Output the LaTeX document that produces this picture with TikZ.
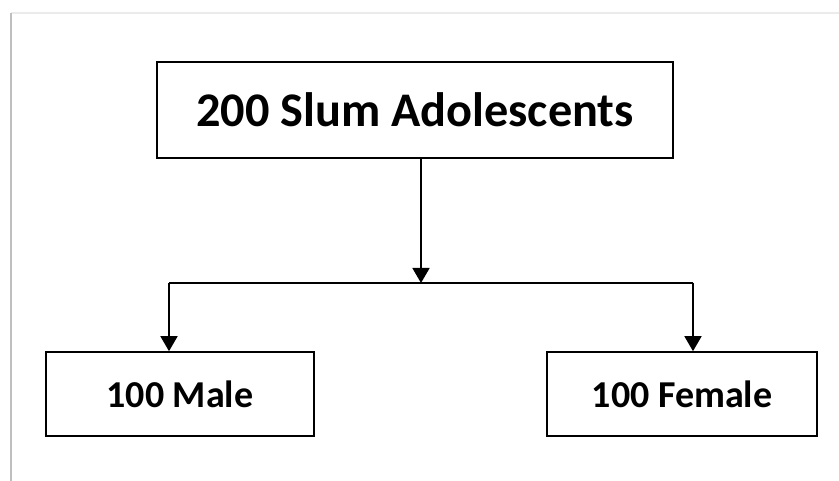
\documentclass[tikz,border=0pt]{standalone}
\usepackage{fontspec}
\setmainfont{Carlito}
\usetikzlibrary{arrows.meta}

\begin{document}
\begin{tikzpicture}[x=1pt,y=1pt,
		box/.style={draw,line width=1.6pt,inner sep=0pt,font=\bfseries},
		link/.style={line width=1.6pt},
		tip/.style={-{Triangle[length=15pt,width=17pt]}}]
		\useasboundingbox (0,0) rectangle (839,-481);
		% page edge
		\draw[black!8,line width=2pt] (11,-13) -- (839,-13);
		\draw[black!25,line width=2pt] (11,-13) -- (11,-481);

		\node[box,minimum width=516pt,minimum height=96pt,font=\bfseries\fontsize{48.3}{52}\selectfont] (total) at (415,-110) {200 Slum Adolescents};
		\node[box,minimum width=268pt,minimum height=84pt,font=\bfseries\fontsize{38}{42}\selectfont] (male) at (180,-394) {100 Male};
		\node[box,minimum width=270pt,minimum height=84pt,font=\bfseries\fontsize{38}{42}\selectfont] (female) at (682,-394) {100 Female};

		\coordinate (split) at (421,-283);
		\coordinate (jl) at (169,-283);
		\coordinate (jr) at (693,-283);

		\draw[link,tip] (total.south -| split) -- (split);
		\draw[link] (jl) -- (jr);
		\draw[link,tip] (jl) -- (male.north -| jl);
		\draw[link,tip] (jr) -- (female.north -| jr);
	\end{tikzpicture}
\end{document}
